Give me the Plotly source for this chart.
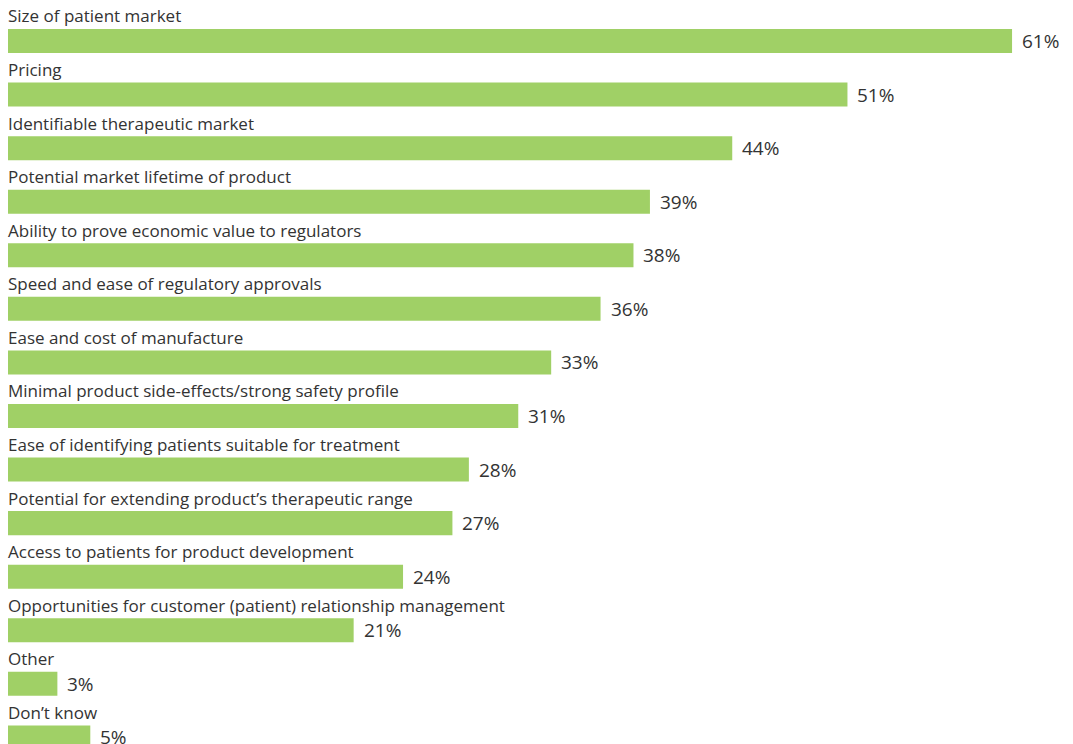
import plotly.graph_objects as go

categories = [
    "Size of patient market",
    "Pricing",
    "Identifiable therapeutic market",
    "Potential market lifetime of product",
    "Ability to prove economic value to regulators",
    "Speed and ease of regulatory approvals",
    "Ease and cost of manufacture",
    "Minimal product side-effects/strong safety profile",
    "Ease of identifying patients suitable for treatment",
    "Potential for extending product\u2019s therapeutic range",
    "Access to patients for product development",
    "Opportunities for customer (patient) relationship management",
    "Other",
    "Don\u2019t know",
]
values = [61, 51, 44, 39, 38, 36, 33, 31, 28, 27, 24, 21, 3, 5]

BAR_COLOR = "#a0d066"
TEXT_COLOR = "#333333"
FONT = "Open Sans"

rows = list(range(len(categories)))

fig = go.Figure()
fig.add_trace(go.Bar(
    x=values, y=rows, orientation="h",
    marker=dict(color=BAR_COLOR, line=dict(width=0)),
    width=0.448, hoverinfo="skip",
))

annotations = []
for i, (c, v) in enumerate(zip(categories, values)):
    annotations.append(dict(
        x=0, y=i - 0.467, xref="x", yref="y", text=c, showarrow=False,
        xanchor="left", yanchor="middle", xshift=-2,
        font=dict(family=FONT, size=17, color=TEXT_COLOR),
    ))
    annotations.append(dict(
        x=v, y=i, xref="x", yref="y", text=f"{v}%", showarrow=False,
        xanchor="left", yanchor="middle", xshift=8, yshift=0,
        font=dict(family=FONT, size=19, color=TEXT_COLOR),
    ))

fig.update_layout(
    width=1073, height=744,
    margin=dict(l=0, r=0, t=0, b=0),
    paper_bgcolor="white", plot_bgcolor="white",
    showlegend=False,
    xaxis=dict(range=[-8 / 16.46, 1065 / 16.46], visible=False, fixedrange=True),
    yaxis=dict(range=[13.123, -0.765], visible=False, fixedrange=True),
    annotations=annotations,
)

fig.write_html("out.html")
